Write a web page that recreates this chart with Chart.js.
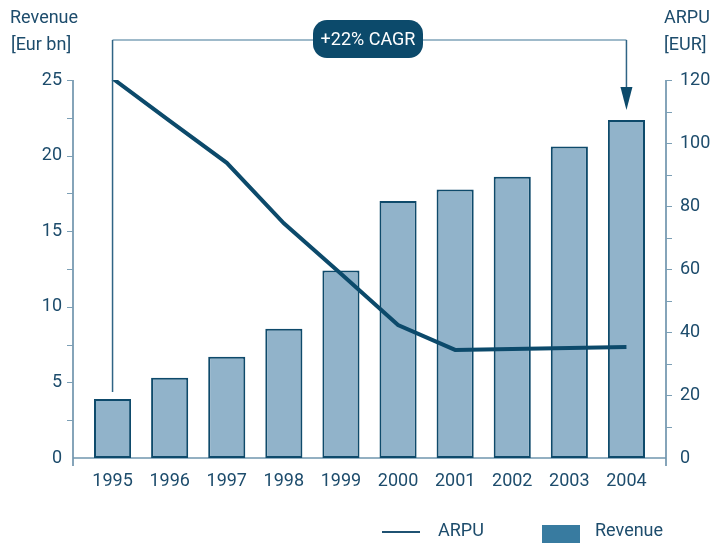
<!DOCTYPE html>
<html>
<head>
<meta charset="utf-8">
<script src="https://cdn.jsdelivr.net/npm/chart.js@4/dist/chart.umd.min.js"></script>
<style>
  html, body { margin: 0; padding: 0; background: #fff; }
  #wrap { width: 715px; height: 543px; position: relative; }
</style>
</head>
<body>
<div id="wrap"><canvas id="revenueChart"></canvas></div>
<script>
var years = ['1995', '1996', '1997', '1998', '1999', '2000', '2001', '2002', '2003', '2004'];
var revenue = [3.9, 5.3, 6.7, 8.55, 12.4, 17.0, 17.75, 18.6, 20.6, 22.35];
var arpu = [120.5, 107, 93.7, 74.5, 58.5, 42.2, 34.3, 34.6, 34.9, 35.2];
var leftTicks = [0, 5, 10, 15, 20, 25];
var rightTicks = [0, 20, 40, 60, 80, 100, 120];
var cagrLabel = '+22% CAGR';

var textColor = '#1d4c6c';
var darkBlue = '#0c4a6b';
var axisColor = '#5d87a3';
var fontFamily = 'Roboto, "Liberation Sans", sans-serif';

Chart.defaults.font.family = fontFamily;
Chart.defaults.font.size = 18;
Chart.defaults.color = textColor;

// axes, tick marks, the CAGR bracket and the legend
var decor = {
  id: 'decor',
  beforeDatasetsDraw: function (chart) {
    var ctx = chart.ctx;
    var yl = chart.scales.y, yr = chart.scales.y1;
    var top = yl.getPixelForValue(25), zero = yl.getPixelForValue(0);
    var lx = 73, rx = 666;
    ctx.save();
    ctx.strokeStyle = axisColor;
    ctx.lineWidth = 1.5;
    ctx.beginPath();
    ctx.moveTo(lx, top); ctx.lineTo(lx, zero + 8);
    ctx.moveTo(rx, yr.getPixelForValue(120)); ctx.lineTo(rx, zero + 8);
    ctx.stroke();
    ctx.strokeStyle = '#6f96ae';
    ctx.beginPath();
    ctx.moveTo(lx, zero); ctx.lineTo(rx, zero);
    ctx.stroke();
    ctx.lineWidth = 1.2;
    ctx.strokeStyle = '#7c9fb5';
    ctx.beginPath();
    for (var v = 2.5; v <= 25; v += 2.5) {
      var p = Math.round(yl.getPixelForValue(v)) + 0.5;
      ctx.moveTo(lx - 6, p); ctx.lineTo(lx, p);
    }
    for (var w = 10; w <= 120; w += 10) {
      var q = Math.round(yr.getPixelForValue(w)) + 0.5;
      ctx.moveTo(rx, q); ctx.lineTo(rx + 6, q);
    }
    ctx.stroke();
    ctx.restore();
  },
  afterDraw: function (chart) {
    var ctx = chart.ctx;
    var x = chart.scales.x, yl = chart.scales.y;
    var x0 = x.getPixelForValue(0), x9 = x.getPixelForValue(years.length - 1);
    var lineY = 40;
    var firstTop = yl.getPixelForValue(revenue[0]) - 7;
    var lastTop = yl.getPixelForValue(revenue[revenue.length - 1]) - 10;
    ctx.save();
    ctx.lineWidth = 1.5;
    ctx.strokeStyle = '#7fa3b9';
    ctx.beginPath();
    ctx.moveTo(x0, lineY); ctx.lineTo(x9, lineY);
    ctx.stroke();
    ctx.strokeStyle = '#2f6485';
    ctx.beginPath();
    ctx.moveTo(x0, lineY); ctx.lineTo(x0, firstTop);
    ctx.moveTo(x9, lineY); ctx.lineTo(x9, lastTop - 20);
    ctx.stroke();
    ctx.fillStyle = darkBlue;
    ctx.beginPath();
    ctx.moveTo(x9 - 6, lastTop - 23); ctx.lineTo(x9 + 6, lastTop - 23); ctx.lineTo(x9, lastTop);
    ctx.closePath();
    ctx.fill();

    // badge
    var bx = 313, by = 20, bw = 110, bh = 38;
    ctx.beginPath();
    ctx.roundRect(bx, by, bw, bh, 14);
    ctx.fill();
    ctx.fillStyle = '#fff';
    ctx.font = '18px ' + fontFamily;
    ctx.textAlign = 'center';
    ctx.textBaseline = 'middle';
    ctx.fillText(cagrLabel, bx + bw / 2, by + bh / 2 + 1);

    // axis titles
    ctx.fillStyle = textColor;
    ctx.textAlign = 'left';
    ctx.fillText('Revenue', 10, 18);
    ctx.fillText('[Eur bn]', 11, 45);
    ctx.fillText('ARPU', 664, 18);
    ctx.fillText('[EUR]', 664, 45);

    // legend
    ctx.strokeStyle = '#1f5272';
    ctx.lineWidth = 2;
    ctx.beginPath();
    ctx.moveTo(382, 532); ctx.lineTo(420, 532);
    ctx.stroke();
    ctx.fillText(chart.data.datasets[0].label, 438, 531);
    ctx.fillStyle = '#387ba0';
    ctx.fillRect(542, 525, 38, 20);
    ctx.fillStyle = textColor;
    ctx.fillText(chart.data.datasets[1].label, 595, 531);
    ctx.restore();
  }
};

new Chart(document.getElementById('revenueChart'), {
  data: {
    labels: years,
    datasets: [
      {
        type: 'line',
        label: 'ARPU',
        data: arpu,
        yAxisID: 'y1',
        borderColor: darkBlue,
        borderWidth: 4,
        pointRadius: 0,
        tension: 0,
        order: 0
      },
      {
        type: 'bar',
        label: 'Revenue',
        data: revenue,
        yAxisID: 'y',
        backgroundColor: '#91b3ca',
        borderColor: '#0e4a6b',
        borderWidth: 2,
        borderSkipped: false,
        categoryPercentage: 1,
        barPercentage: 0.65,
        order: 1
      }
    ]
  },
  options: {
    responsive: true,
    maintainAspectRatio: false,
    animation: false,
    layout: { padding: { top: 80, bottom: 45, left: 0, right: 0 } },
    plugins: {
      legend: { display: false },
      tooltip: { enabled: false }
    },
    scales: {
      x: {
        grid: { display: false, drawTicks: false },
        border: { display: false },
        ticks: { padding: 13, color: textColor },
        afterFit: function (s) { s.height = 40; }
      },
      y: {
        position: 'left',
        min: 0,
        max: 25,
        afterBuildTicks: function (s) { s.ticks = leftTicks.map(function (v) { return { value: v }; }); },
        grid: { display: false, drawTicks: false },
        border: { display: false },
        ticks: { padding: 22, color: textColor },
        afterFit: function (s) { s.width = 84; }
      },
      y1: {
        position: 'right',
        min: 0,
        max: 120,
        afterBuildTicks: function (s) { s.ticks = rightTicks.map(function (v) { return { value: v }; }); },
        grid: { display: false, drawTicks: false },
        border: { display: false },
        ticks: { padding: 25, color: textColor },
        afterFit: function (s) { s.width = 60; }
      }
    }
  },
  plugins: [decor]
});
</script>
</body>
</html>
